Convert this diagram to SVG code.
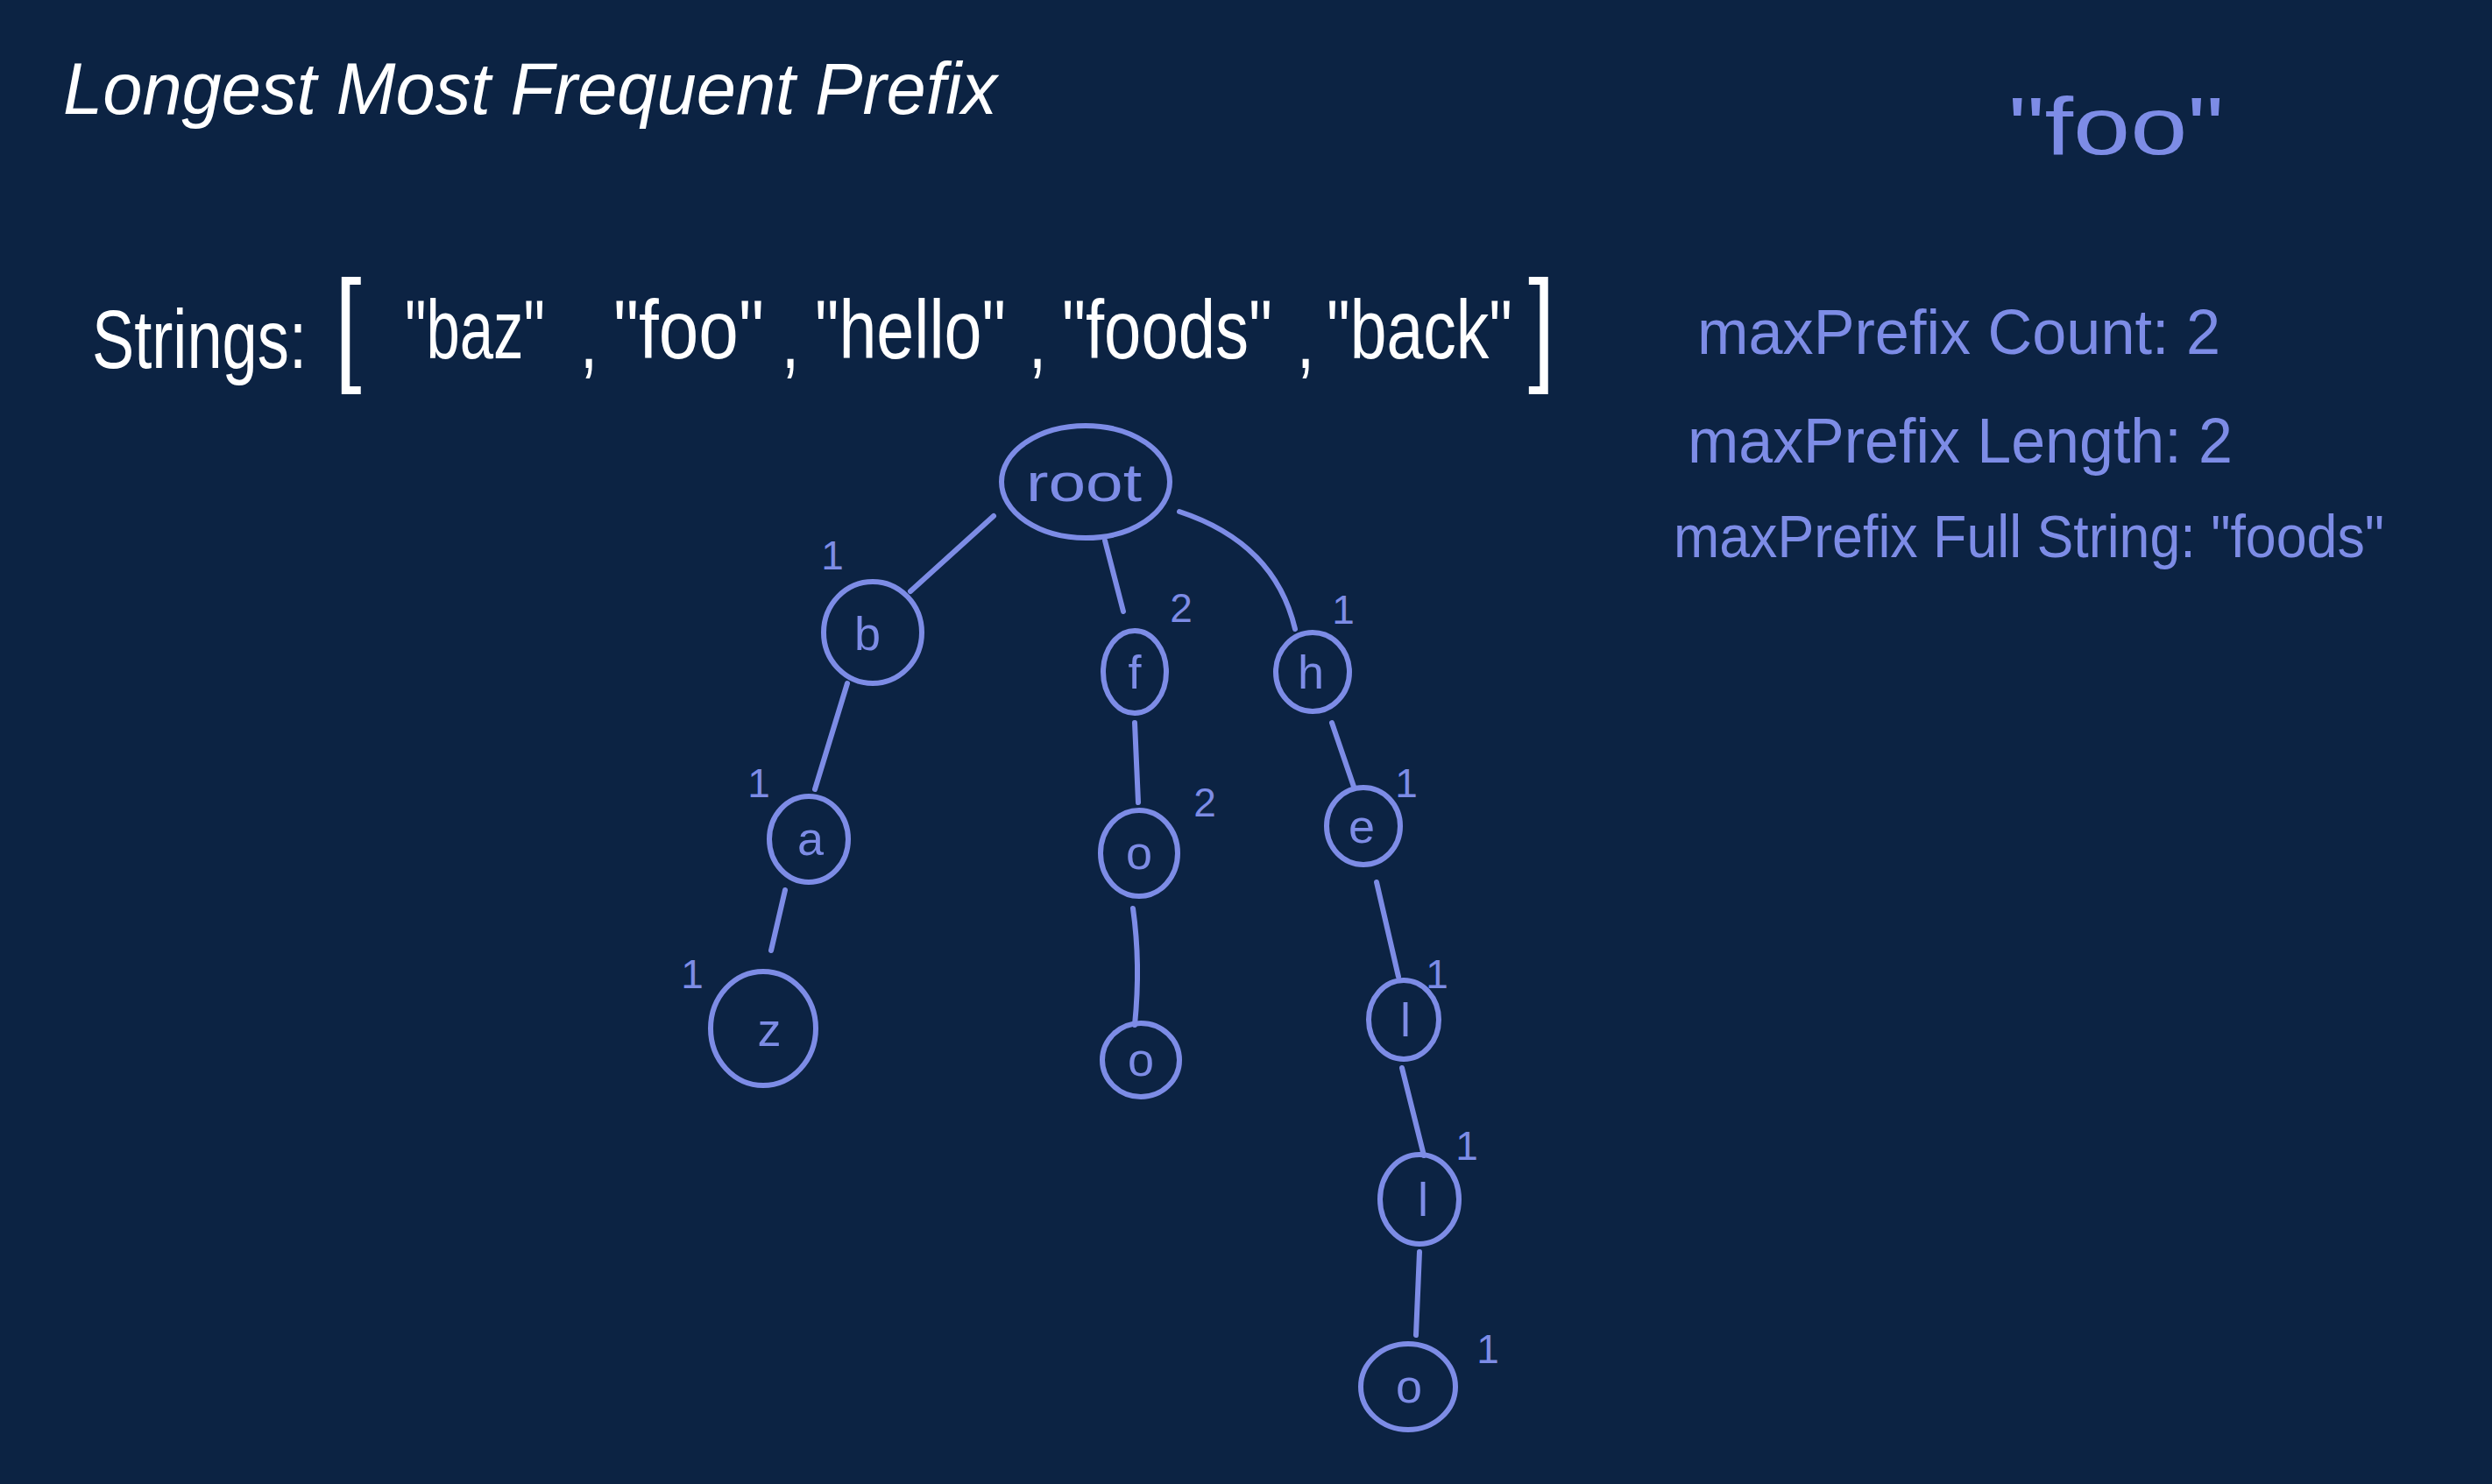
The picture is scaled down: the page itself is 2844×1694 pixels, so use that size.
<svg xmlns="http://www.w3.org/2000/svg" width="2844" height="1694" viewBox="0 0 2844 1694">
<style>
.bg{fill:#0c2343}
.title{font-family:"Liberation Sans",Arial,sans-serif;font-style:italic;fill:#ffffff;font-size:84px}
.hw{font-family:"Liberation Sans",Arial,sans-serif;fill:#ffffff;font-size:72px}
.br{font-family:"Liberation Sans",Arial,sans-serif;fill:#ffffff;font-size:110px}
.blue{font-family:"Liberation Sans",Arial,sans-serif;fill:#7d8ce6;}
.node ellipse{fill:none;stroke:#7d8ce6;stroke-width:6}
.node text{font-family:"Liberation Sans",Arial,sans-serif;fill:#7d8ce6;text-anchor:middle}
.lbl{font-size:54px}
.cnt{font-size:46px}
#edges path{fill:none;stroke:#7d8ce6;stroke-width:6;stroke-linecap:round}
</style>
<rect class="bg" x="0" y="0" width="2844" height="1694"/>

<text class="title" x="72" y="130" textLength="1066" lengthAdjust="spacingAndGlyphs">Longest Most Frequent Prefix</text>

<g id="strings" transform="scale(1,1.3)">
<text class="hw" x="105" y="323" textLength="245" lengthAdjust="spacingAndGlyphs">Strings:</text>
<text class="br" x="382" y="323">[</text>
<text class="hw" x="462" y="315" textLength="160" lengthAdjust="spacingAndGlyphs">"baz"</text>
<text class="hw" x="662" y="323">,</text>
<text class="hw" x="700" y="315" textLength="172" lengthAdjust="spacingAndGlyphs">"foo"</text>
<text class="hw" x="892" y="323">,</text>
<text class="hw" x="930" y="315" textLength="218" lengthAdjust="spacingAndGlyphs">"hello"</text>
<text class="hw" x="1174" y="323">,</text>
<text class="hw" x="1212" y="315" textLength="240" lengthAdjust="spacingAndGlyphs">"foods"</text>
<text class="hw" x="1480" y="323">,</text>
<text class="hw" x="1514" y="315" textLength="212" lengthAdjust="spacingAndGlyphs">"back"</text>
<text class="br" x="1744" y="323">]</text>
</g>

<g id="foo-note">
<text class="blue" x="2292" y="176" style="font-size:92px" textLength="246" lengthAdjust="spacingAndGlyphs">"foo"</text>
</g>

<g id="vars">
<text class="blue" x="1937" y="404" style="font-size:72px" textLength="597" lengthAdjust="spacingAndGlyphs">maxPrefix Count: 2</text>
<text class="blue" x="1926" y="528" style="font-size:72px" textLength="622" lengthAdjust="spacingAndGlyphs">maxPrefix Length: 2</text>
<text class="blue" x="1910" y="636" style="font-size:68px" textLength="811" lengthAdjust="spacingAndGlyphs">maxPrefix Full String: "foods"</text>
</g>

<g id="edges">
<path d="M1134 589 L1039 675"/>
<path d="M1261 617 L1282 698"/>
<path d="M1346 584 Q1455 620 1478 718"/>
<path d="M967 780 L930 901"/>
<path d="M1295 825 L1299 916"/>
<path d="M1520 825 L1545 898"/>
<path d="M896 1016 L880 1085"/>
<path d="M1293 1037 Q1302 1100 1295 1170"/>
<path d="M1571 1007 L1596 1115"/>
<path d="M1600 1219 L1625 1319"/>
<path d="M1620 1429 L1616 1524"/>
</g>

<g id="node-root" class="node">
<ellipse cx="1239" cy="550" rx="96" ry="64"/>
<text class="lbl" x="1237" y="572" textLength="132" lengthAdjust="spacingAndGlyphs" style="font-size:62px">root</text>
</g>
<g id="node-b" class="node">
<ellipse cx="996" cy="722" rx="56" ry="58"/>
<text class="lbl" x="990" y="742">b</text>
<text class="cnt" x="950" y="650">1</text>
</g>
<g id="node-f" class="node">
<ellipse cx="1295" cy="767" rx="36" ry="47"/>
<text class="lbl" x="1295" y="786">f</text>
<text class="cnt" x="1348" y="710">2</text>
</g>
<g id="node-h" class="node">
<ellipse cx="1498" cy="767" rx="42" ry="45"/>
<text class="lbl" x="1496" y="786">h</text>
<text class="cnt" x="1533" y="712">1</text>
</g>
<g id="node-a" class="node">
<ellipse cx="923" cy="958" rx="45" ry="49"/>
<text class="lbl" x="925" y="976">a</text>
<text class="cnt" x="866" y="910">1</text>
</g>
<g id="node-o1" class="node">
<ellipse cx="1300" cy="974" rx="44" ry="49"/>
<text class="lbl" x="1300" y="992">o</text>
<text class="cnt" x="1375" y="932">2</text>
</g>
<g id="node-e" class="node">
<ellipse cx="1556" cy="943" rx="42" ry="44"/>
<text class="lbl" x="1554" y="962">e</text>
<text class="cnt" x="1605" y="910">1</text>
</g>
<g id="node-z" class="node">
<ellipse cx="871" cy="1174" rx="60" ry="65"/>
<text class="lbl" x="878" y="1194">z</text>
<text class="cnt" x="790" y="1128">1</text>
</g>
<g id="node-o2" class="node">
<ellipse cx="1302" cy="1210" rx="44" ry="42"/>
<text class="lbl" x="1302" y="1228">o</text>
</g>
<g id="node-l1" class="node">
<ellipse cx="1602" cy="1164" rx="40" ry="45"/>
<text class="lbl" x="1604" y="1183">l</text>
<text class="cnt" x="1640" y="1128">1</text>
</g>
<g id="node-l2" class="node">
<ellipse cx="1620" cy="1369" rx="45" ry="51"/>
<text class="lbl" x="1624" y="1388">l</text>
<text class="cnt" x="1674" y="1324">1</text>
</g>
<g id="node-o3" class="node">
<ellipse cx="1607" cy="1583" rx="54" ry="49"/>
<text class="lbl" x="1608" y="1601">o</text>
<text class="cnt" x="1698" y="1556">1</text>
</g>
</svg>
